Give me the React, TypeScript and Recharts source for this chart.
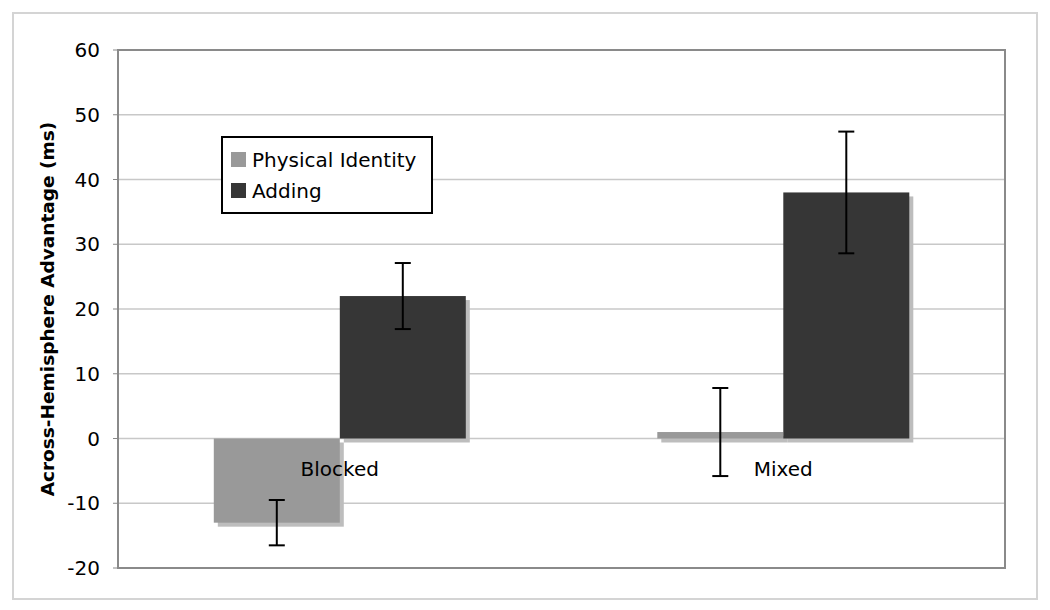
import {
  BarChart, Bar, XAxis, YAxis, CartesianGrid, ErrorBar, Legend, ReferenceArea, ReferenceDot
} from 'recharts'

const categories = ['Blocked', 'Mixed']
const seriesNames = ['Physical Identity', 'Adding']
const physicalIdentity = [-13, 1]
const physicalIdentityErr = [3.5, 6.8]
const adding = [22, 38]
const addingErr = [5.1, 9.4]
const yTicks = [-20, -10, 0, 10, 20, 30, 40, 50, 60]

const data = categories.map((name, i) => ({
  name,
  pi: physicalIdentity[i],
  piErr: physicalIdentityErr[i],
  add: adding[i],
  addErr: addingErr[i],
}))

const FONT = '"DejaVu Sans", Verdana, sans-serif'

// bar with the offset grey drop shadow
const ShadowBar = (props: any) => {
  const { x, y, width, height, fill } = props
  if (width == null || height == null) return null
  const top = Math.min(y, y + height)
  const h = Math.abs(height)
  return (
    <g>
      <rect x={x + 4} y={top + 4} width={width} height={h} fill="#bdbdbd" />
      <rect x={x} y={top} width={width} height={h} fill={fill} />
    </g>
  )
}

const LegendBox = ({ payload }: { payload?: { value: string; color: string }[] }) => {
  const items = [...(payload ?? [])].sort((a, b) => seriesNames.indexOf(a.value) - seriesNames.indexOf(b.value))
  return (
    <div style={{
      border: '2px solid #000', background: '#fff', padding: '6px 8px 6px 8px',
      fontFamily: FONT, fontSize: 20, color: '#000', width: 192,
    }}>
      {items.map((p) => (
        <div key={p.value} style={{ display: 'flex', alignItems: 'center', height: 31 }}>
          <span style={{ width: 15, height: 15, background: p.color, marginRight: 6, display: 'inline-block' }} />
          {p.value}
        </div>
      ))}
    </div>
  )
}

const YLabel = ({ viewBox }: any) => {
  const cx = viewBox.x - 11
  const cy = viewBox.y + viewBox.height / 2
  return (
    <text x={cx} y={cy} transform={`rotate(-90 ${cx} ${cy})`} textAnchor="middle"
      dominantBaseline="central" fontWeight="bold" fontSize={18.5} fill="#000" fontFamily={FONT}>
      Across-Hemisphere Advantage (ms)
    </text>
  )
}

export default function App() {
  return (
    <div style={{ position: 'absolute', left: 0, top: 0, width: 1050, height: 610, background: '#fff' }}>
      <div style={{
        position: 'absolute', left: 12, top: 12, width: 1022, height: 584,
        border: '2px solid #d4d4d4',
      }} />
      <BarChart
        width={1050}
        height={610}
        data={data}
        margin={{ top: 50, right: 45, bottom: 42, left: 58 }}
        barCategoryGap="21.6%"
        barGap={0}
        style={{ position: 'absolute', left: 0, top: 0, fontFamily: FONT }}
      >
        <CartesianGrid vertical={false} stroke="#c8c8c8" strokeWidth={1.5} />
        <XAxis dataKey="name" hide />
        <YAxis
          domain={[-20, 60]}
          ticks={yTicks}
          width={60}
          axisLine={false}
          tickLine={{ stroke: '#888' }}
          tickSize={5}
          tickMargin={13}
          tick={{ fill: '#000', fontSize: 20, fontFamily: FONT }}
          label={<YLabel />}
        />
        <ReferenceArea y1={-20} y2={60} fill="none" stroke="#8a8a8a" strokeWidth={2} />
        <Bar dataKey="pi" name={seriesNames[0]} fill="#999999" shape={ShadowBar} isAnimationActive={false}>
          <ErrorBar dataKey="piErr" width={8} stroke="#000" strokeWidth={2} isAnimationActive={false} />
        </Bar>
        <Bar dataKey="add" name={seriesNames[1]} fill="#363636" shape={ShadowBar} isAnimationActive={false}>
          <ErrorBar dataKey="addErr" width={8} stroke="#000" strokeWidth={2} isAnimationActive={false} />
        </Bar>
        {categories.map((c) => (
          <ReferenceDot key={c} x={c} y={0} r={1} fill="none" stroke="none"
            label={{ value: c, position: 'bottom', offset: 22, fill: '#000', fontSize: 20, fontFamily: FONT }} />
        ))}
        <Legend
          layout="vertical"
          verticalAlign="middle"
          align="center"
          wrapperStyle={{ left: 221, top: 136, width: 'auto', height: 'auto' }}
          content={(p: any) => <LegendBox payload={p.payload} />}
        />
      </BarChart>
    </div>
  )
}
